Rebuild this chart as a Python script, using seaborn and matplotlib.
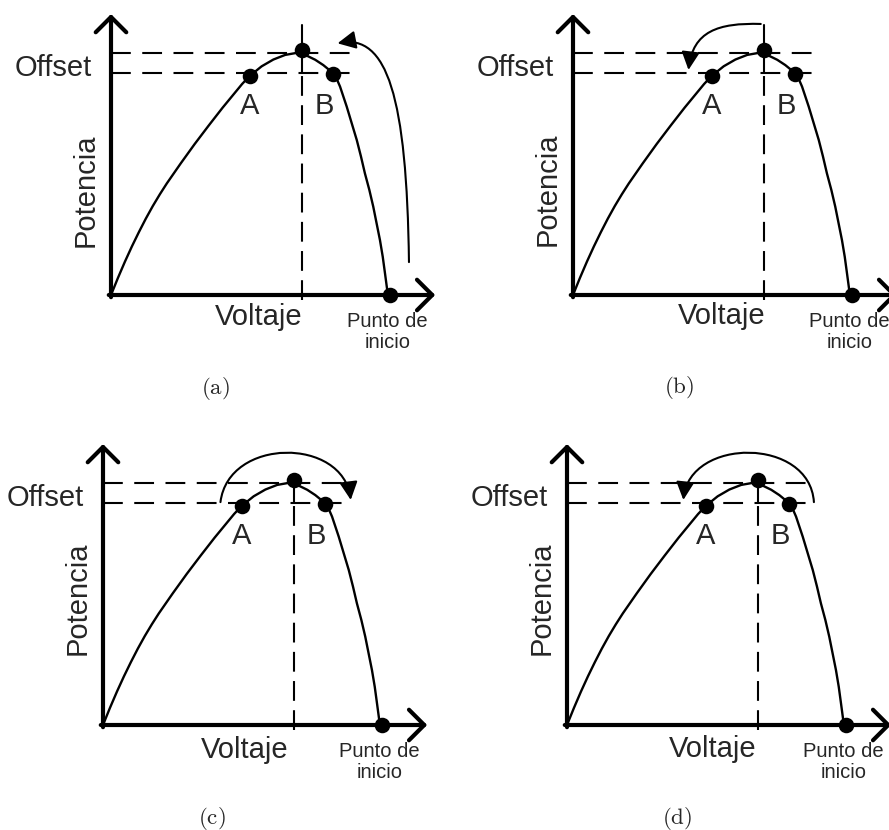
import matplotlib
matplotlib.use("Agg")
import matplotlib.pyplot as plt
from matplotlib.path import Path
from matplotlib.patches import FancyArrowPatch
import seaborn as sns

# curva P-V normalizada (V / Voc, P / Pmax)
voltaje = [0.000, 0.025, 0.050, 0.075, 0.100, 0.125, 0.150, 0.175, 0.200, 0.250,
           0.300, 0.350, 0.400, 0.440, 0.470, 0.497, 0.540, 0.582, 0.624, 0.663,
           0.700, 0.732, 0.761, 0.797, 0.809, 0.821, 0.845, 0.863, 0.881, 0.896,
           0.910, 0.926, 0.940, 0.952, 0.964, 0.974, 0.982, 0.990, 0.993]
potencia = [0.000, 0.071, 0.138, 0.201, 0.260, 0.316, 0.368, 0.416, 0.461, 0.544,
            0.624, 0.700, 0.774, 0.830, 0.872, 0.905, 0.945, 0.973, 0.992, 1.000,
            0.990, 0.972, 0.950, 0.916, 0.893, 0.861, 0.778, 0.709, 0.640, 0.572,
            0.503, 0.434, 0.365, 0.296, 0.227, 0.158, 0.090, 0.021, 0.000]

# puntos A, maximo, B y punto de inicio
puntos_v = [0.497, 0.683, 0.797, 1.0]
puntos_p = [0.907, 1.012, 0.914, 0.0]

offset_alto = 1.002
offset_bajo = 0.916
v_mpp = 0.683
fin_offset = 0.896

paneles = ["a", "b", "c", "d"]
# origen de cada panel en pixeles (x, y desde arriba)
origen = {"a": (111, 295), "b": (573, 295), "c": (103, 725), "d": (567, 725)}
pot_label_y = {"a": 0.434, "b": 0.438, "c": 0.525, "d": 0.525}
volt_label = {"a": (0.529, -0.124), "b": (0.534, -0.120), "c": (0.507, -0.136), "d": (0.522, -0.132)}
caption_px = {"a": (215, 389), "b": (679, 387), "c": (212, 818), "d": (677, 818)}
# flechas de busqueda (bezier cubica: inicio, control1, control2, fin)
flechas = {
    "a": [(1.068, 0.136), (1.060, 0.82), (0.99, 1.08), (0.812, 1.040)],
    "b": [(0.673, 1.120), (0.52, 1.125), (0.43, 1.09), (0.414, 0.930)],
    "c": [(0.421, 0.921), (0.45, 1.19), (0.86, 1.19), (0.888, 0.930)],
    "d": [(0.885, 0.921), (0.87, 1.19), (0.44, 1.19), (0.417, 0.930)],
}

W, H = 889, 830
SX, SY = 279, 242
XLIM = (-0.42, 1.25)
YLIM = (-0.35, 1.25)

sns.set_style("white")
plt.rcParams["font.family"] = ["Liberation Sans", "DejaVu Sans"]
plt.rcParams["mathtext.fontset"] = "cm"

fig = plt.figure(figsize=(W / 100, H / 100), dpi=100)

for k in paneles:
    x0, y0 = origen[k]
    left = x0 + XLIM[0] * SX
    bottom = y0 - YLIM[0] * SY
    w = (XLIM[1] - XLIM[0]) * SX
    h = (YLIM[1] - YLIM[0]) * SY
    ax = fig.add_axes([left / W, 1 - bottom / H, w / W, h / H])
    ax.set_xlim(*XLIM)
    ax.set_ylim(*YLIM)
    ax.axis("off")

    # ejes con flecha
    ejes = dict(arrowstyle="->,head_length=1.1,head_width=1.1", lw=3, color="black",
                shrinkA=0, shrinkB=0)
    ax.annotate("", xy=(0, 1.161), xytext=(0, -0.009), arrowprops=ejes)
    ax.annotate("", xy=(1.162, 0), xytext=(-0.008, 0), arrowprops=ejes)

    # lineas de offset
    dash = (0, (9.5, 5.5))
    ax.plot([0, fin_offset], [offset_alto, offset_alto], color="black", lw=1.5, ls=dash)
    ax.plot([0, fin_offset], [offset_bajo, offset_bajo], color="black", lw=1.5, ls=dash)
    ax.plot([v_mpp, v_mpp], [-0.02, offset_bajo], color="black", lw=1.5, ls=(0, (9.5, 4.5)))
    top = 1.116 if k in ("a", "b") else puntos_p[1]
    ax.plot([v_mpp, v_mpp], [offset_bajo, top], color="black", lw=1.5)

    # curva P-V y puntos
    sns.lineplot(x=voltaje, y=potencia, ax=ax, color="black", lw=1.7,
                 sort=False, estimator=None)
    sns.scatterplot(x=puntos_v, y=puntos_p, ax=ax, color="black", s=125,
                    edgecolor="black", linewidth=0, zorder=5)

    # flecha de busqueda
    verts = flechas[k]
    path = Path(verts, [Path.MOVETO, Path.CURVE4, Path.CURVE4, Path.CURVE4])
    arr = FancyArrowPatch(path=path, arrowstyle="-|>,head_length=1.1,head_width=0.55",
                          mutation_scale=10, lw=1.5, color="black")
    ax.add_patch(arr)

    # textos
    ax.text(-0.068, 0.94, "Offset", fontsize=21, ha="right", va="center")
    ax.text(-0.092, pot_label_y[k], "Potencia", fontsize=21, rotation=90,
            ha="center", va="center")
    vx, vy = volt_label[k]
    ax.text(vx, vy, "Voltaje", fontsize=21, ha="center", va="baseline")
    ax.text(0.99, -0.072, "Punto de\ninicio", fontsize=14.5, ha="center", va="top",
            linespacing=1.1)
    ax.text(0.497, 0.779, "A", fontsize=21, ha="center", va="center")
    ax.text(0.764, 0.779, "B", fontsize=21, ha="center", va="center")

    cx, cy = caption_px[k]
    fig.text(cx / W, 1 - cy / H, r"$\mathrm{(%s)}$" % k, fontsize=16.5,
             ha="center", va="center")

fig.savefig("out.png", dpi=100)
